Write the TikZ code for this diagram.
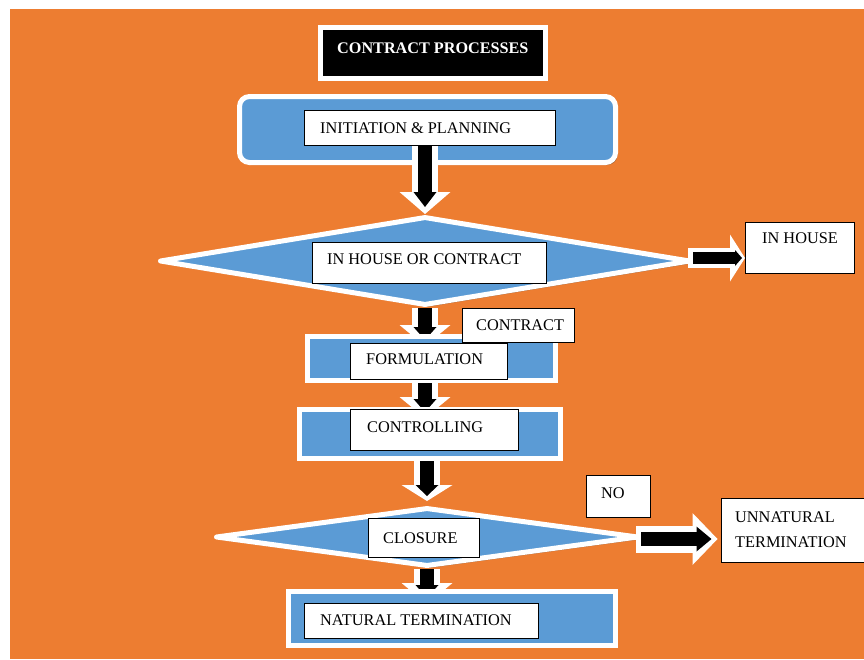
\documentclass[tikz,border=0pt]{standalone}
\usepackage{fontspec}
\setmainfont{Liberation Serif}
\usetikzlibrary{arrows.meta,shapes.geometric,shadows}
\definecolor{bgorange}{RGB}{237,125,49}
\definecolor{boxblue}{RGB}{91,155,213}
\pgfdeclarelayer{under}
\pgfsetlayers{under,main}
\begin{document}
\begin{tikzpicture}[x=1pt,y=-1pt,
  shadowed/.style={drop shadow={shadow xshift=2pt,shadow yshift=-2.5pt,opacity=0.45,fill=black!70}},
  bluebox/.style={draw=white,line width=5pt,fill=boxblue,inner sep=0pt,shadowed},
  bluediamond/.style={diamond,draw=white,line width=5pt,line join=round,fill=boxblue,inner sep=0pt,shadowed},
  titlebox/.style={draw=white,line width=5pt,fill=black,inner sep=0pt,shadowed},
  txtbox/.style={draw=black,line width=1pt,fill=white,inner sep=0pt},
  lbl/.style={font=\fontsize{16.3}{25}\selectfont,inner sep=0pt,anchor=base west,text=black},
  titletext/.style={font=\bfseries\fontsize{16.2}{20}\selectfont,inner sep=0pt,anchor=base west,text=white},
  wv/.style={white,line width=26pt,-{Triangle[width=51pt,length=#1,line width=0pt]}},
  wv/.default=21pt,
  bv/.style={black,line width=14pt,-{Triangle[width=23pt,length=#1,line width=0pt]}},
  bv/.default=13pt]
\useasboundingbox (0,0) rectangle (864,659);
\begin{pgfonlayer}{under}
\fill[white] (0,0) rectangle (864,659);
\fill[bgorange] (10,9) rectangle (864,659);
\end{pgfonlayer}

% title
\node[titlebox,minimum width=225pt,minimum height=51pt] (title) at (433,53) {};
\node[titletext] (titlet) at (337,53) {CONTRACT PROCESSES};

% initiation
\node[bluebox,rounded corners=10pt,minimum width=376pt,minimum height=66pt] (init) at (427.5,129.5) {};
\node[txtbox,minimum width=251pt,minimum height=35pt] (ipbox) at (430,128) {};
\node[lbl] (iptext) at (320,133) {INITIATION \& PLANNING};

% decision 1
\node[bluediamond,minimum width=531pt,minimum height=89pt] (d1) at (425,261) {};
\node[txtbox,minimum width=234pt,minimum height=41pt] (ihcbox) at (429.5,263) {};
\node[lbl] (ihctext) at (327,264) {IN HOUSE OR CONTRACT};

% arrow 1
\draw[wv=22pt] (ipbox.south -| d1.north) -- (d1.north);
\draw[bv=15pt,shorten >=7pt] (ipbox.south -| d1.north) -- (d1.north);

% in house
\node[txtbox,minimum width=109pt,minimum height=51pt] (inhouse) at (800,248) {};
\node[lbl] (inhousetext) at (762,243) {IN HOUSE};
\coordinate (aA) at ([yshift=3pt]d1.east);
\coordinate (aAend) at (aA -| inhouse.west);
\draw[white,line width=20pt,shorten <=-5pt,-{Triangle[width=47pt,length=15pt,line width=0pt]}] (aA) -- (aAend);
\draw[black,line width=12pt,shorten >=3pt,-{Triangle[width=16pt,length=7pt,line width=0pt]}] (aA) -- (aAend);

% formulation
\node[bluebox,minimum width=248pt,minimum height=44pt] (form) at (431.5,358.5) {};
\node[txtbox,minimum width=157pt,minimum height=36pt] (formbox) at (429,361.5) {};
\node[lbl] (formtext) at (366,364) {FORMULATION};
\coordinate (a2end) at ([yshift=-12pt]d1.south |- form.north);
\begin{pgfonlayer}{under}
\draw[wv] (d1.south) -- (a2end);
\draw[bv,shorten >=6pt] (d1.south) -- (a2end);
\end{pgfonlayer}

% contract label
\node[txtbox,minimum width=112pt,minimum height=34pt] (contract) at (518.5,325.5) {};
\node[lbl] (contracttext) at (476,330) {CONTRACT};

% controlling
\node[bluebox,minimum width=261pt,minimum height=49pt] (ctrl) at (430,434) {};
\node[txtbox,minimum width=168pt,minimum height=41pt] (ctrlbox) at (434.5,430) {};
\node[lbl] (ctrltext) at (367,432) {CONTROLLING};
\coordinate (a3start) at (d1.south |- form.south);
\coordinate (a3end) at ([yshift=-11pt]d1.south |- ctrl.north);
\begin{pgfonlayer}{under}
\draw[wv] (a3start) -- (a3end);
\draw[bv,shorten >=6pt] (a3start) -- (a3end);
\end{pgfonlayer}

% decision 2
\node[bluediamond,minimum width=423pt,minimum height=59pt] (d2) at (427,537) {};
\node[txtbox,minimum width=111pt,minimum height=39pt] (closbox) at (424,538) {};
\node[lbl] (clostext) at (383,543) {CLOSURE};
\draw[wv=16pt,shorten >=4pt] (ctrl.south -| d2.north) -- (d2.north);
\draw[bv=11pt,shorten >=9pt] (ctrl.south -| d2.north) -- (d2.north);

% no + unnatural
\node[txtbox,minimum width=64pt,minimum height=42pt] (nobox) at (618.5,496.5) {};
\node[lbl] (notext) at (601,498) {NO};
\node[txtbox,minimum width=150pt,minimum height=64pt] (unnat) at (796,530.5) {};
\node[lbl] (unnat1) at (735,522) {UNNATURAL};
\node[lbl] (unnat2) at (735,547) {TERMINATION};
\coordinate (bB) at ([yshift=-2pt]d2.east);
\coordinate (bBend) at (bB -| unnat.west);
\draw[white,line width=27pt,shorten <=-5pt,shorten >=3pt,-{Triangle[width=52pt,length=25pt,line width=0pt]}] (bB) -- (bBend);
\draw[black,line width=14pt,shorten >=9pt,-{Triangle[width=25pt,length=15pt,line width=0pt]}] (bB) -- (bBend);

% natural termination
\node[bluebox,minimum width=327pt,minimum height=54pt] (nat) at (452,618.5) {};
\node[txtbox,minimum width=234pt,minimum height=35pt] (natbox) at (421.5,621) {};
\node[lbl] (nattext) at (320,625) {NATURAL TERMINATION};
\coordinate (a5end) at ([yshift=-15pt]d2.south |- nat.north);
\begin{pgfonlayer}{under}
\draw[wv] (d2.south) -- (a5end);
\draw[bv=13pt,shorten >=6pt] (d2.south) -- (a5end);
\end{pgfonlayer}
\end{tikzpicture}
\end{document}
